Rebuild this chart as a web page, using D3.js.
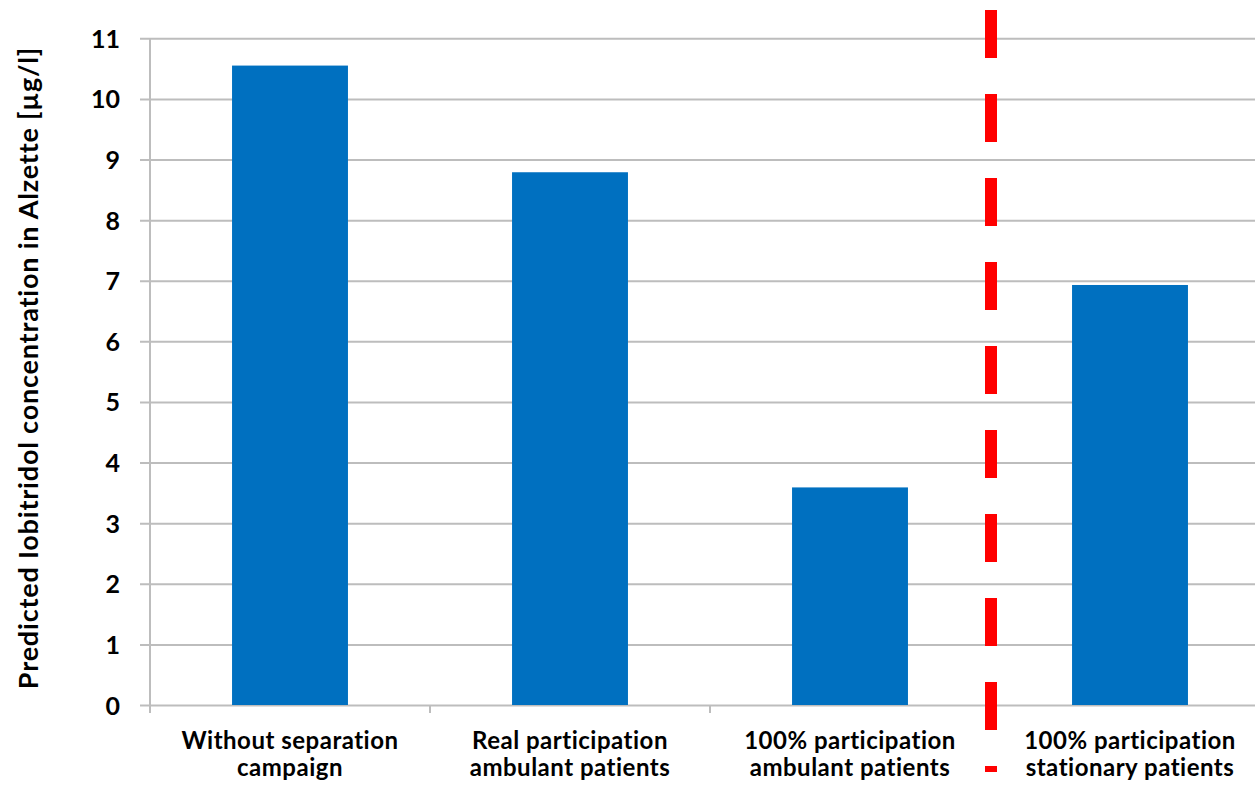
<!DOCTYPE html>
<html>
<head>
<meta charset="utf-8">
<script src="https://cdn.jsdelivr.net/npm/d3@7"></script>
<style>
  body { margin: 0; background: #fff; }
  text { font-family: Lato, "Open Sans", sans-serif; font-weight: bold; fill: #000; }
</style>
</head>
<body>
<div id="chart"></div>
<script>
const categories = [
    ["Without separation", "campaign"],
    ["Real participation", "ambulant patients"],
    ["100% participation", "ambulant patients"],
    ["100% participation", "stationary patients"],
];
const values = [10.55, 8.79, 3.59, 6.93];
const yTicks = [0, 1, 2, 3, 4, 5, 6, 7, 8, 9, 10, 11];
const yTitle = "Predicted Iobitridol concentration in Alzette [\u00b5g/l]";
const splitAfter = 2; // red dashed divider after the third category

const W = 1255, H = 786;
const AXIS_X = 150, GRID_X0 = 140;
const PLOT_TOP = 38.3, PLOT_BOTTOM = 705;

const svg = d3.select("#chart").append("svg")
    .attr("width", W)
    .attr("height", H);

const x = d3.scaleBand()
    .domain(d3.range(categories.length))
    .range([AXIS_X, AXIS_X + 280 * categories.length])
    .padding(0);

const y = d3.scaleLinear()
    .domain([0, 11])
    .range([PLOT_BOTTOM, PLOT_TOP]);

// gridlines + y labels
const yAxis = svg.append("g")
    .attr("transform", `translate(${GRID_X0},0)`)
    .call(d3.axisLeft(y).tickValues(yTicks).tickSize(-(W - GRID_X0)).tickSizeOuter(0).tickPadding(20));
yAxis.select(".domain").remove();
yAxis.selectAll(".tick line").attr("stroke", "#bdbdbd").attr("stroke-width", 2);
yAxis.selectAll(".tick text")
    .style("font-size", "25px")
    .attr("dy", "0.36em");

// y axis line
svg.append("line")
    .attr("x1", AXIS_X).attr("x2", AXIS_X)
    .attr("y1", y(11)).attr("y2", PLOT_BOTTOM + 8)
    .attr("stroke", "#bdbdbd").attr("stroke-width", 2);

// x category ticks at band boundaries
svg.append("g")
    .selectAll("line")
    .data(d3.range(categories.length))
    .join("line")
    .attr("x1", (d) => x(d)).attr("x2", (d) => x(d))
    .attr("y1", PLOT_BOTTOM).attr("y2", PLOT_BOTTOM + 8)
    .attr("stroke", "#bdbdbd").attr("stroke-width", 2);

// bars
const barW = x.bandwidth() * 0.414;
svg.append("g")
    .selectAll("rect")
    .data(values)
    .join("rect")
    .attr("x", (d, i) => x(i) + (x.bandwidth() - barW) / 2)
    .attr("y", (d) => y(d))
    .attr("width", barW)
    .attr("height", (d) => y(0) - y(d))
    .attr("fill", "#0070c0");

// category labels
const labels = svg.append("g")
    .selectAll("text")
    .data(categories)
    .join("text")
    .attr("text-anchor", "middle")
    .style("font-size", "24px")
    .style("letter-spacing", "0.5px");
labels.selectAll("tspan")
    .data((d, i) => d.map((t) => ({ t, i })))
    .join("tspan")
    .attr("x", (d) => x(d.i) + x.bandwidth() / 2)
    .attr("y", (d, j) => 749 + j * 27)
    .text((d) => d.t);

// red dashed divider
const divX = x(splitAfter) + x.bandwidth() + 1;
svg.append("line")
    .attr("x1", divX).attr("x2", divX)
    .attr("y1", 10).attr("y2", 772)
    .attr("stroke", "#ff0000")
    .attr("stroke-width", 12)
    .attr("stroke-dasharray", "48 36");

// y title
svg.append("text")
    .attr("transform", `translate(38,368) rotate(-90)`)
    .attr("text-anchor", "middle")
    .style("font-size", "27px")
    .style("letter-spacing", "0.8px")
    .text(yTitle);
</script>
</body>
</html>
